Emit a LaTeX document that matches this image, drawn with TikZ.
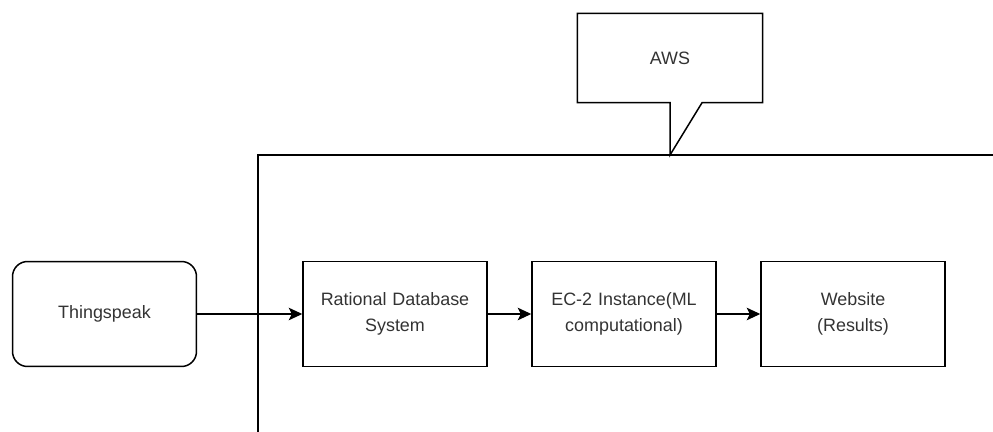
\documentclass[tikz,border=0pt]{standalone}
\usepackage{fontspec}
\setmainfont{Liberation Sans}
\usepackage{tikz}
\usetikzlibrary{arrows.meta,positioning,calc}

\begin{document}
\begin{tikzpicture}[
    x=0.02cm, y=-0.02cm,
    line width=0.85pt,
    >={Stealth[length=2.7mm,width=2.5mm,inset=0.6mm]},
    block/.style = {rectangle, draw, minimum width=3.68cm, minimum height=2.1cm, text width=3.4cm, align=center, font=\fontsize{10.2}{14.6}\selectfont, text=black!80},
    source/.style = {block, rounded corners=0.3cm}
]
    \useasboundingbox (0,0) rectangle (993,432);

    % AWS callout
    \node[minimum width=3.68cm, minimum height=1.76cm, font=\fontsize{10.2}{14.6}\selectfont, text=black!80] (aws) at (670,58) {AWS};
    \coordinate (tip) at (670,155);
    \draw (aws.south) -- (aws.south west) -- (aws.north west) -- (aws.north east) -- (aws.south east) -- ($(aws.south)+(32,0)$) -- (tip) -- cycle;

    % AWS region
    \coordinate (corner) at (258,155);
    \coordinate (rightend) at (993,155);
    \coordinate (bottomend) at (258,432);
    \draw (rightend) -- (corner) -- (bottomend);

    % Pipeline
    \node[source] (thing) at (104.5,314) {Thingspeak};
    \node[block] (rdbs) at (395,314) {Rational Database\\ System};
    \node[block] (ec2) at (624,314) {EC-2 Instance(ML\\ computational)};
    \node[block] (web) at (853,314) {Website\\ (Results)};

    % Arrows
    \draw[->] (thing) -- (rdbs);
    \draw[->] (rdbs) -- (ec2);
    \draw[->] (ec2) -- (web);

\end{tikzpicture}
\end{document}
